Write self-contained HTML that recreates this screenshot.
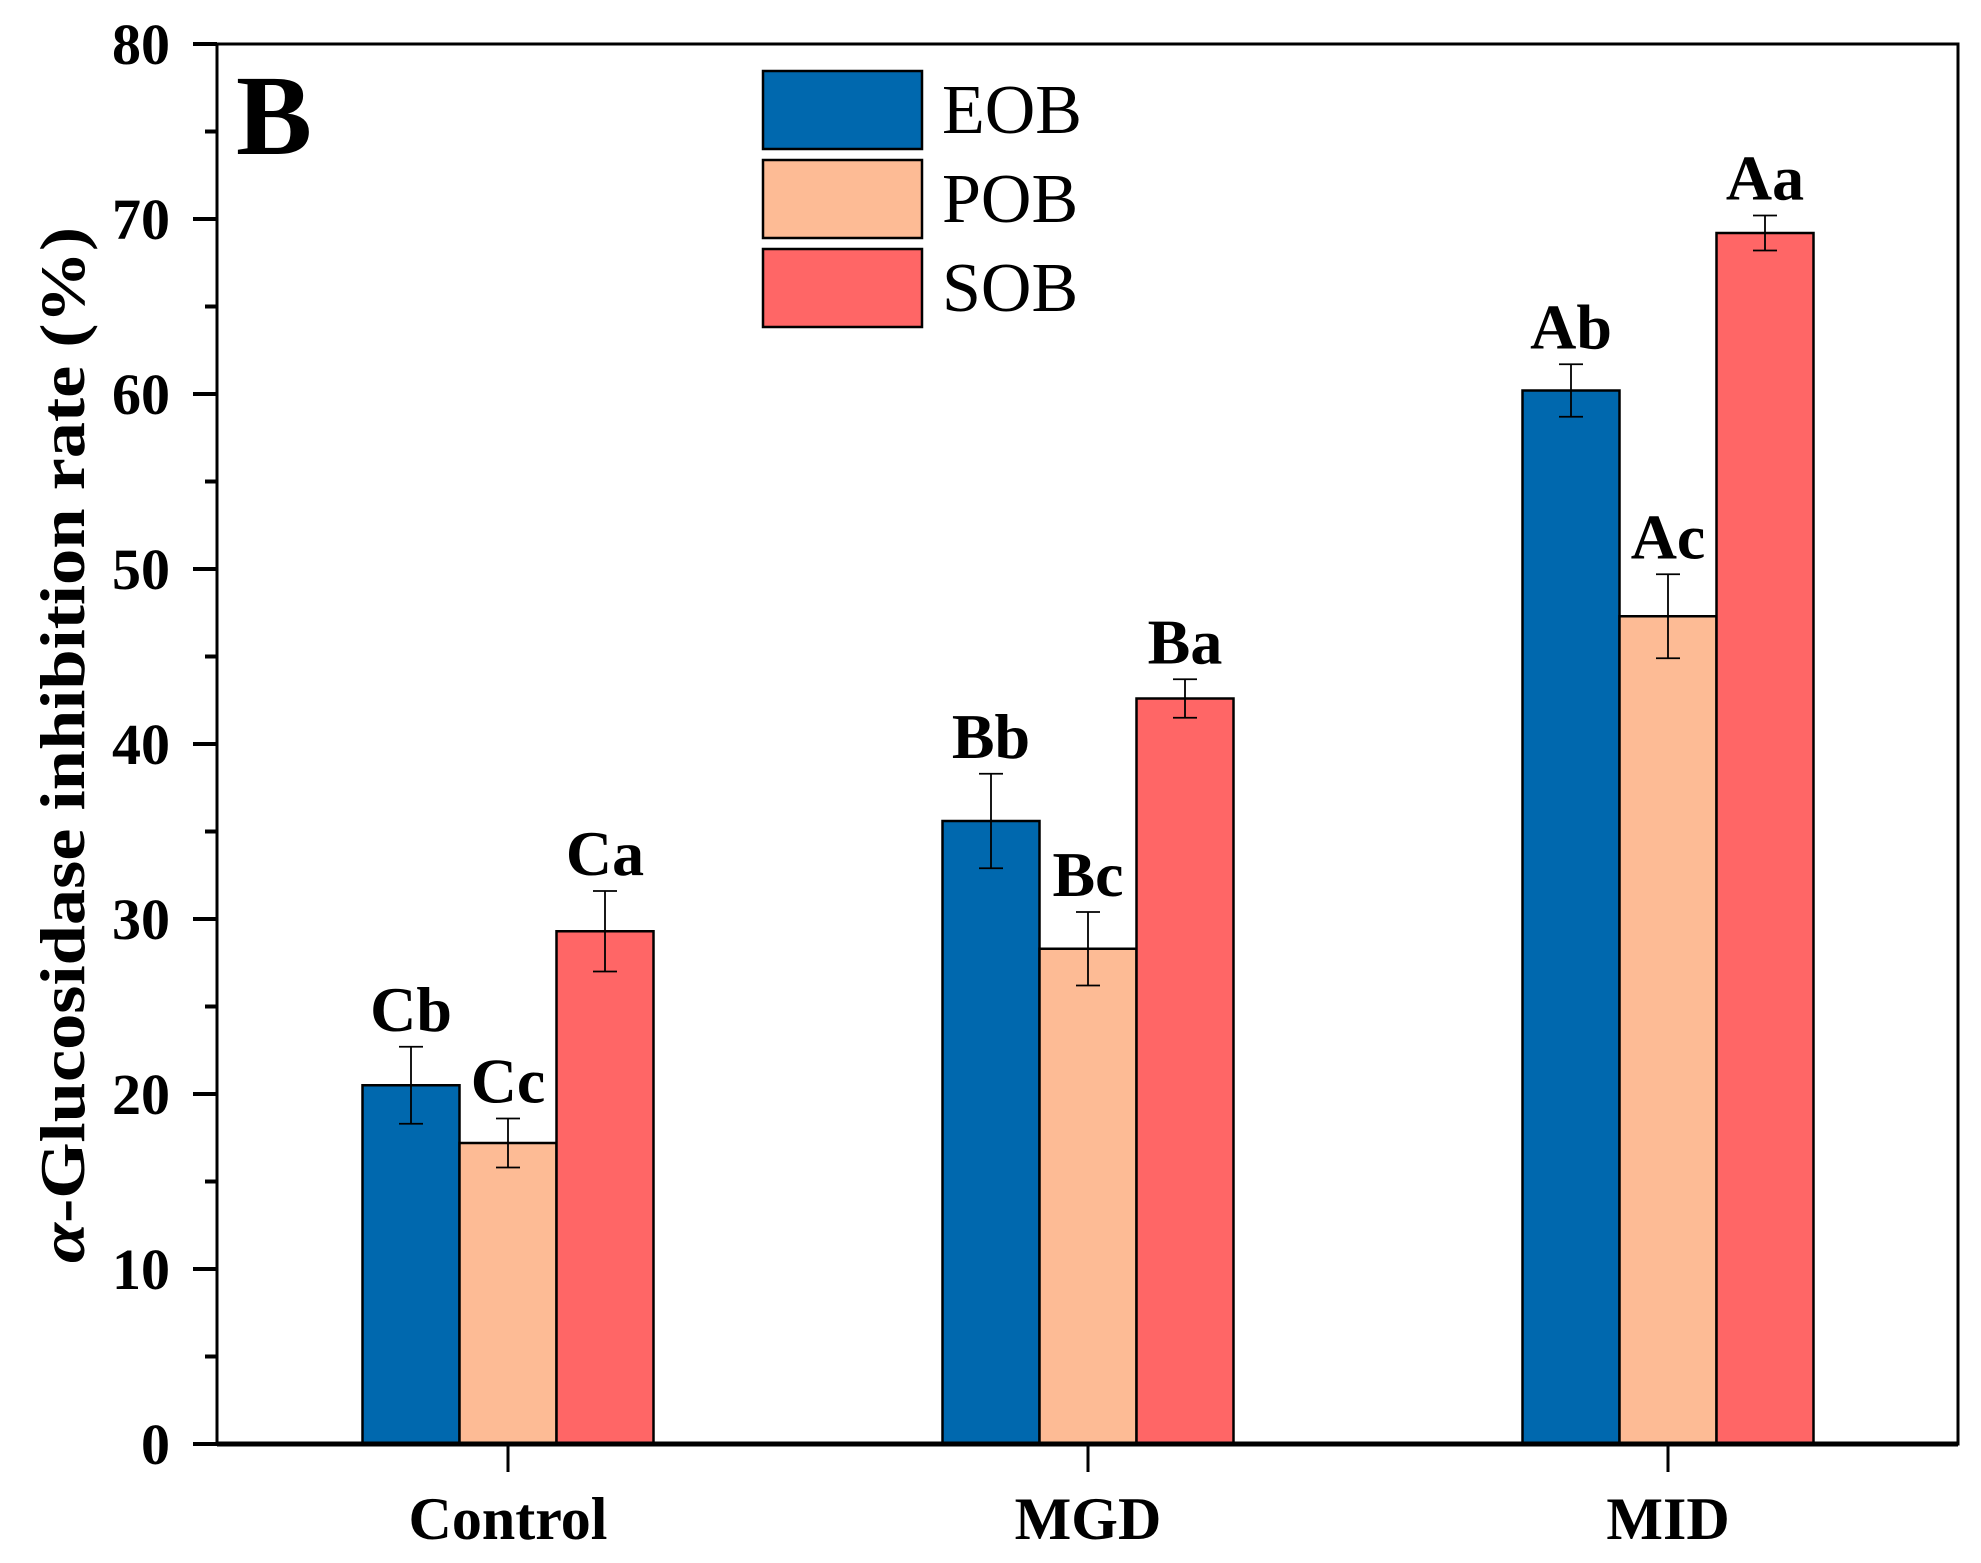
<!DOCTYPE html>
<html><head><meta charset="utf-8"><style>body{margin:0;background:#fff}svg{display:block}text{font-family:"Liberation Serif",serif}</style></head>
<body>
<svg id="chart" width="1981" height="1563" xmlns="http://www.w3.org/2000/svg">
<g id="marks"></g>
<text x="236" y="154" font-size="114" font-weight="bold">B</text>
<text transform="translate(84,745) rotate(-90)" text-anchor="middle" font-size="64" font-weight="bold" textLength="1036" lengthAdjust="spacingAndGlyphs"><tspan font-style="italic">α</tspan>-Glucosidase inhibition rate (%)</text>
<g id="legend"></g>
</svg>
<script>
const categories = ["Control","MGD","MID"];
const seriesNames = ["EOB","POB","SOB"];
const colors = ["#0068AE","#FDBB95","#FF6666"];
const eob = [20.5, 35.6, 60.2];
const pob = [17.2, 28.3, 47.3];
const sob = [29.3, 42.6, 69.2];
const eobErr = [2.2, 2.7, 1.5];
const pobErr = [1.4, 2.1, 2.4];
const sobErr = [2.3, 1.1, 1.0];
const eobLbl = ["Cb","Bb","Ab"];
const pobLbl = ["Cc","Bc","Ac"];
const sobLbl = ["Ca","Ba","Aa"];
const yTicks = [0,10,20,30,40,50,60,70,80];

const NS="http://www.w3.org/2000/svg";
const L=217,R=1958,T=44,B=1444,yMax=80;
const y=v=>B-(v/yMax)*(B-T);
const groupX=i=>508+i*580;
const barW=97;
const g=document.getElementById('marks');
function el(tag,attrs,parent){const e=document.createElementNS(NS,tag);for(const k in attrs)e.setAttribute(k,attrs[k]);(parent||g).appendChild(e);return e;}
const vals=[eob,pob,sob],errs=[eobErr,pobErr,sobErr],lbls=[eobLbl,pobLbl,sobLbl];
categories.forEach((c,i)=>{
  vals.forEach((s,j)=>{
    const x0=groupX(i)-1.5*barW+j*barW;
    const r=el('rect',{x:x0,y:y(s[i]),width:barW,height:B-y(s[i]),fill:colors[j],stroke:'#000','stroke-width':2.5});
    
    
    const cx=x0+barW/2,hi=y(s[i]+errs[j][i]),lo=y(s[i]-errs[j][i]);
    const e=el('path',{d:`M${cx},${hi}V${lo}M${cx-12},${hi}H${cx+12}M${cx-12},${lo}H${cx+12}`,stroke:'#000','stroke-width':1.8,fill:'none'});
    
    
    const t=el('text',{x:cx,y:hi-16,'text-anchor':'middle','font-size':64,'font-weight':'bold'});
    t.textContent=lbls[j][i];
    
    
  });
  const tk=el('line',{x1:groupX(i),x2:groupX(i),y1:B,y2:B+28,stroke:'#000','stroke-width':3});
  
  
  const xl=el('text',{x:groupX(i),y:1539,'text-anchor':'middle','font-size':60,'font-weight':'bold'});
  xl.textContent=c;
  
  
});
yTicks.forEach((v,i)=>{
  const tk=el('line',{x1:L-24,x2:L,y1:y(v),y2:y(v),stroke:'#000','stroke-width':4});
  
  
  if(i<yTicks.length-1){const m=el('line',{x1:L-12,x2:L,y1:y(v+5),y2:y(v+5),stroke:'#000','stroke-width':4});
  
  }
  const t=el('text',{x:170,y:y(v)+20,'text-anchor':'end','font-size':58,'font-weight':'bold'});
  t.textContent=v;
  
  
});
const frame=el('rect',{x:L,y:T,width:R-L,height:B-T,fill:'none',stroke:'#000','stroke-width':3});


const ax=el('line',{x1:L,x2:R,y1:B,y2:B,stroke:'#000','stroke-width':5});


const lg=document.getElementById('legend');


seriesNames.forEach((n,j)=>{
  const yy=71+j*89;
  const r=el('rect',{x:763,y:yy,width:159,height:78,fill:colors[j],stroke:'#000','stroke-width':2.5},lg);
  
  
  const t=el('text',{x:942,y:yy+62,'font-size':70},lg);
  t.textContent=n;
  
  
});
</script>
</body></html>
